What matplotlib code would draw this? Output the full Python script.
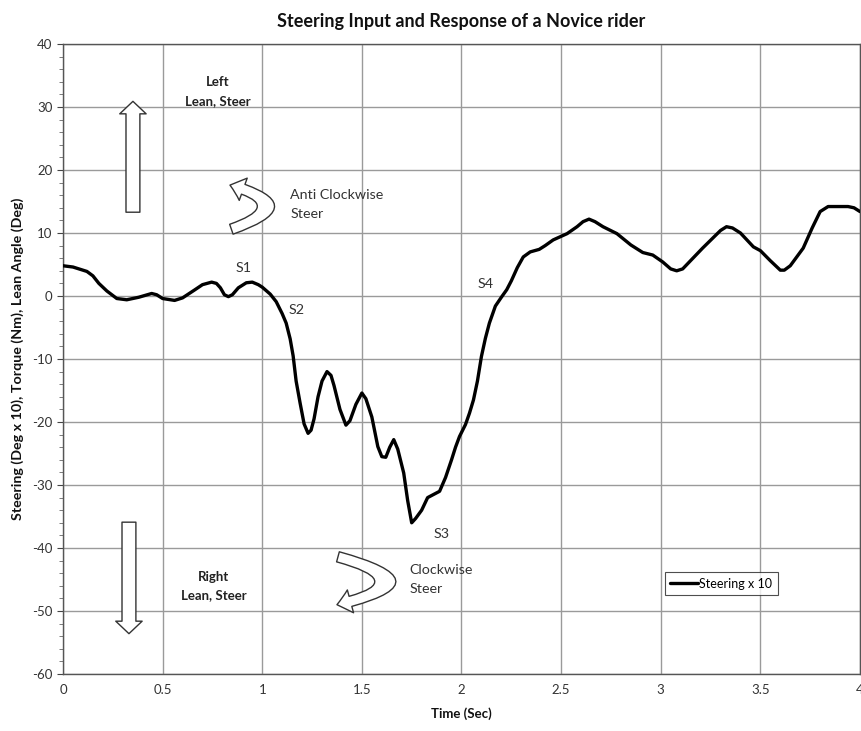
import matplotlib
matplotlib.use("Agg")
import matplotlib.pyplot as plt
from matplotlib.patches import FancyArrowPatch
from matplotlib.ticker import MultipleLocator

plt.rcParams['font.family'] = ['Lato', 'DejaVu Sans']
plt.rcParams['axes.unicode_minus'] = False

# Data
time_s = [0.00, 0.05, 0.12, 0.15, 0.18, 0.22, 0.27, 0.32, 0.38, 0.445, 0.47, 0.50,
          0.56, 0.60, 0.66, 0.70, 0.746, 0.77, 0.79, 0.81, 0.83, 0.85, 0.88, 0.92,
          0.95, 0.98, 1.00, 1.04, 1.07, 1.10, 1.12, 1.14, 1.155, 1.17, 1.19, 1.21,
          1.23, 1.245, 1.26, 1.28, 1.30, 1.325, 1.345, 1.36, 1.39, 1.42, 1.44, 1.47,
          1.50, 1.52, 1.55, 1.58, 1.60, 1.62, 1.64, 1.66, 1.68, 1.71, 1.73, 1.75,
          1.77, 1.80, 1.83, 1.86, 1.89, 1.92, 1.95, 1.97, 1.99, 2.02, 2.04, 2.06,
          2.08, 2.10, 2.12, 2.14, 2.17, 2.20, 2.227, 2.25, 2.28, 2.31, 2.345, 2.39,
          2.42, 2.46, 2.53, 2.58, 2.61, 2.64, 2.67, 2.71, 2.78, 2.85, 2.91, 2.96,
          3.01, 3.05, 3.08, 3.11, 3.21, 3.30, 3.33, 3.36, 3.40, 3.465, 3.50, 3.55,
          3.60, 3.62, 3.65, 3.715, 3.76, 3.80, 3.84, 3.94, 3.97, 4.00]
steering_x10 = [4.8, 4.6, 3.9, 3.2, 2.0, 0.8, -0.4, -0.6, -0.2, 0.4, 0.2, -0.4,
                -0.7, -0.3, 0.95, 1.8, 2.2, 2.0, 1.3, 0.2, -0.1, 0.2, 1.3, 2.1,
                2.2, 1.8, 1.4, 0.3, -0.9, -2.8, -4.3, -6.8, -9.5, -13.5, -17.0, -20.3,
                -21.8, -21.3, -19.5, -16.0, -13.5, -12.0, -12.6, -14.2, -18.0, -20.5, -19.8, -17.2,
                -15.4, -16.3, -19.2, -23.9, -25.5, -25.6, -24.0, -22.8, -24.3, -28.1, -32.5, -36.0,
                -35.3, -34.0, -32.0, -31.5, -31.0, -28.8, -26.0, -24.0, -22.3, -20.4, -18.6, -16.5,
                -13.5, -9.6, -6.7, -4.3, -1.6, -0.2, 1.0, 2.4, 4.5, 6.2, 7.0, 7.4,
                8.0, 8.9, 9.9, 11.0, 11.8, 12.2, 11.8, 11.0, 9.9, 8.1, 6.9, 6.5,
                5.4, 4.3, 4.0, 4.3, 7.6, 10.4, 11.0, 10.8, 10.0, 7.8, 7.2, 5.6,
                4.1, 4.1, 4.8, 7.6, 10.8, 13.4, 14.2, 14.2, 14.0, 13.4]

x_ticks = [0, 0.5, 1, 1.5, 2, 2.5, 3, 3.5, 4]
x_tick_labels = ["0", "0.5", "1", "1.5", "2", "2.5", "3", "3.5", "4"]
y_ticks = [40, 30, 20, 10, 0, -10, -20, -30, -40, -50, -60]

title = "Steering Input and Response of a Novice rider"
x_label = "Time (Sec)"
y_label = "Steering (Deg x 10), Torque (Nm), Lean Angle (Deg)"
series_name = "Steering x 10"

fig = plt.figure(figsize=(8.61, 7.31), dpi=100)
ax = fig.add_axes([63/861, 1-674/731, 797/861, 630/731])

ax.plot(time_s, steering_x10, color="black", lw=2.4, label=series_name,
        solid_joinstyle="round", solid_capstyle="round", zorder=3)

ax.set_xlim(0, 4)
ax.set_ylim(-60, 40)
ax.set_xticks(x_ticks)
ax.set_xticklabels(x_tick_labels)
ax.set_yticks(y_ticks)
ax.yaxis.set_minor_locator(MultipleLocator(2))
ax.grid(True, which="major", color="#9a9a9a", lw=1.0)
ax.set_axisbelow(True)
ax.tick_params(axis="both", which="major", labelsize=9.5, colors="#444444",
               labelcolor="#333333", length=4, direction="out")
ax.tick_params(axis="y", which="minor", length=3, colors="#666666")
ax.tick_params(axis="x", which="major", length=0, pad=7)
for s in ax.spines.values():
    s.set_color("#555555")
    s.set_linewidth(1.0)

ax.set_title(title, fontsize=13, fontweight="bold", pad=12, color="#111111")
ax.set_xlabel(x_label, fontsize=9.5, fontweight="bold", labelpad=8, color="#111111")
ax.set_ylabel(y_label, fontsize=10.3, fontweight="bold", labelpad=6, color="#111111")

leg = ax.legend(loc="lower left", bbox_to_anchor=(0.755, 0.125), fontsize=9,
                frameon=True, fancybox=False, handlelength=2.2, handletextpad=0.1,
                borderpad=0.45, borderaxespad=0)
leg.get_frame().set_edgecolor("#222222")
leg.get_frame().set_linewidth(0.8)

# Text annotations
txt = dict(fontsize=9.5, color="#222222")
ax.text(0.775, 34.0, "Left", ha="center", va="center", fontweight="bold", **txt)
ax.text(0.775, 31.0, "Lean, Steer", ha="center", va="center", fontweight="bold", **txt)
ax.text(0.757, -44.6, "Right", ha="center", va="center", fontweight="bold", **txt)
ax.text(0.757, -47.4, "Lean, Steer", ha="center", va="center", fontweight="bold", **txt)

txt2 = dict(fontsize=10.3, color="#333333")
ax.text(1.14, 16.0, "Anti Clockwise", ha="left", va="center", **txt2)
ax.text(1.14, 13.0, "Steer", ha="left", va="center", **txt2)
ax.text(1.74, -43.5, "Clockwise", ha="left", va="center", **txt2)
ax.text(1.74, -46.5, "Steer", ha="left", va="center", **txt2)

for lab, xx, yy in [("S1", 0.905, 4.5), ("S2", 1.17, -2.3), ("S3", 1.90, -37.8), ("S4", 2.12, 1.9)]:
    ax.text(xx, yy, lab, ha="center", va="center", **txt2)

# Block arrows (hollow)
straight = "simple,head_length=9,head_width=19,tail_width=10"
ax.add_patch(FancyArrowPatch((0.351, 13.3), (0.351, 30.9), arrowstyle=straight,
                             mutation_scale=1, facecolor="white", edgecolor="#333333",
                             lw=1.0, shrinkA=0, shrinkB=0, zorder=4))
ax.add_patch(FancyArrowPatch((0.331, -35.9), (0.331, -53.6), arrowstyle=straight,
                             mutation_scale=1, facecolor="white", edgecolor="#333333",
                             lw=1.0, shrinkA=0, shrinkB=0, zorder=4))

curved = "simple,head_length=10,head_width=17,tail_width=7.5"
ax.add_patch(FancyArrowPatch((0.845, 10.6), (0.838, 17.6), arrowstyle=curved,
                             connectionstyle="arc3,rad=1.6",
                             mutation_scale=1, facecolor="white", edgecolor="#333333",
                             lw=1.0, shrinkA=0, shrinkB=0, zorder=4))
ax.add_patch(FancyArrowPatch((1.38, -41.4), (1.375, -49.0), arrowstyle=curved,
                             connectionstyle="arc3,rad=-2.0",
                             mutation_scale=1, facecolor="white", edgecolor="#333333",
                             lw=1.0, shrinkA=0, shrinkB=0, zorder=4))

fig.savefig("out.png", dpi=100)
